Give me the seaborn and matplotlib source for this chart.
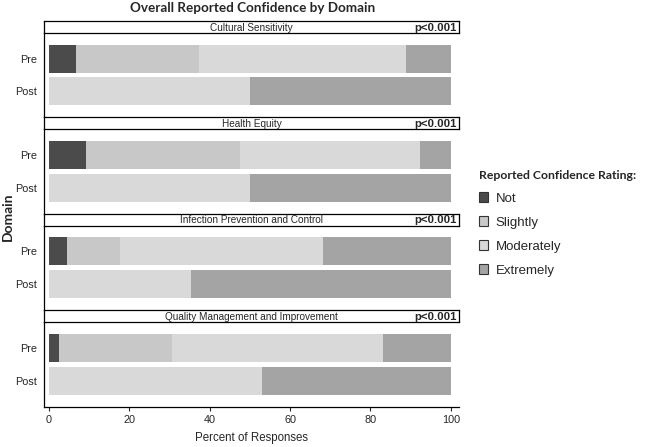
import matplotlib
matplotlib.use("Agg")
import matplotlib.pyplot as plt
from matplotlib.patches import Patch
import seaborn as sns
import pandas as pd

# values (percent of responses)
domains = ["Cultural Sensitivity", "Health Equity",
           "Infection Prevention and Control", "Quality Management and Improvement"]
p_values = ["p<0.001", "p<0.001", "p<0.001", "p<0.001"]
times = ["Pre", "Post"]
ratings = ["Not", "Slightly", "Moderately", "Extremely"]

pre_not = [6.7, 9.3, 4.6, 2.6]
pre_slightly = [30.7, 38.3, 13.1, 28.1]
pre_moderately = [51.4, 44.8, 50.5, 52.5]
pre_extremely = [11.2, 7.6, 31.8, 16.8]
post_not = [0.0, 0.0, 0.0, 0.0]
post_slightly = [0.0, 0.0, 0.0, 0.0]
post_moderately = [50.0, 50.0, 35.3, 53.0]
post_extremely = [50.0, 50.0, 64.7, 47.0]

colors = {"Not": "#4b4b4b", "Slightly": "#c8c8c8",
          "Moderately": "#d9d9d9", "Extremely": "#a4a4a4"}

# long table + cumulative sums for stacking
rows = []
series = {
    "Pre": [pre_not, pre_slightly, pre_moderately, pre_extremely],
    "Post": [post_not, post_slightly, post_moderately, post_extremely],
}
for i, d in enumerate(domains):
    for t in times:
        for r, vals in zip(ratings, series[t]):
            rows.append({"Domain": d, "Time": t, "Rating": r, "Percent": vals[i]})
df = pd.DataFrame(rows)
df["Cum"] = df.groupby(["Domain", "Time"], sort=False)["Percent"].cumsum()

sns.set_style("white")
plt.rcParams["font.family"] = ["Liberation Sans", "DejaVu Sans"]

W, H = 650, 447
fig = plt.figure(figsize=(6.5, 4.47), dpi=100)
left = 44.3 / W
width = (459.3 - 44.3) / W
period = 96.4
strip_h = 12

for i, d in enumerate(domains):
    s_top = 21 + i * period
    s_bot = s_top + strip_h
    p_bot = s_top + period

    ax = fig.add_axes([left, 1 - p_bot / H, width, (p_bot - s_bot) / H])
    ax.patch.set_visible(False)
    sub = df[df["Domain"] == d]
    # draw from the outermost segment inwards so each stack shows through
    for r in ratings[::-1]:
        part = sub[sub["Rating"] == r]
        sns.barplot(data=part, y="Time", x="Cum", order=times, orient="h",
                    color=colors[r], saturation=1, width=0.85, linewidth=0,
                    errorbar=None, ax=ax)
    ax.set_xlim(-1.1, 102.1)
    ax.set_ylim(1.79, -0.78)
    ax.set_ylabel("")
    ax.set_xlabel("")
    for sp in ["top", "right"]:
        ax.spines[sp].set_visible(False)
    ax.spines["left"].set_color("black")
    ax.spines["left"].set_linewidth(0.9)
    ax.tick_params(axis="y", length=0, labelsize=7.8, pad=5)
    if i < len(domains) - 1:
        ax.spines["bottom"].set_visible(False)
        ax.set_xticks([])
    else:
        ax.spines["bottom"].set_color("black")
        ax.spines["bottom"].set_linewidth(0.9)
        ax.set_xticks([0, 20, 40, 60, 80, 100])
        ax.tick_params(axis="x", bottom=True, length=3, width=0.8,
                       labelsize=7.8, pad=3)
        ax.set_xlabel("Percent of Responses", fontsize=8.3, labelpad=5)

    sax = fig.add_axes([left, 1 - s_bot / H, width, strip_h / H])
    sax.set_xticks([])
    sax.set_yticks([])
    for sp in sax.spines.values():
        sp.set_color("black")
        sp.set_linewidth(0.9)
    sax.text(0.5, 0.45, d, ha="center", va="center", fontsize=7.2)
    sax.text(0.993, 0.45, p_values[i], ha="right", va="center", fontsize=8.2,
             fontweight="bold")

fig.text(253 / W, 1 - 8 / H, "Overall Reported Confidence by Domain",
         ha="center", va="center", fontsize=9.7, fontweight="bold",
         family=["Lato", "DejaVu Sans"])
fig.text(8 / W, 1 - 217 / H, "Domain", rotation=90, ha="center", va="center",
         fontsize=10, fontweight="bold", family=["Lato", "DejaVu Sans"])

handles = [Patch(facecolor=colors[r], edgecolor="#333333", linewidth=0.8,
                 label=r) for r in ratings]
leg = fig.legend(handles=handles, loc="upper left",
                 bbox_to_anchor=(468 / W, 1 - 159 / H), frameon=False,
                 title="Reported Confidence Rating:", fontsize=9.5,
                 handlelength=0.75, handleheight=0.75, handletextpad=0.55,
                 labelspacing=0.88, alignment="left", borderpad=0.3)
leg.get_title().set_fontweight("bold")
leg.get_title().set_family(["Lato", "DejaVu Sans"])
leg.get_title().set_fontsize(8.8)

fig.savefig("out.png", dpi=100)
